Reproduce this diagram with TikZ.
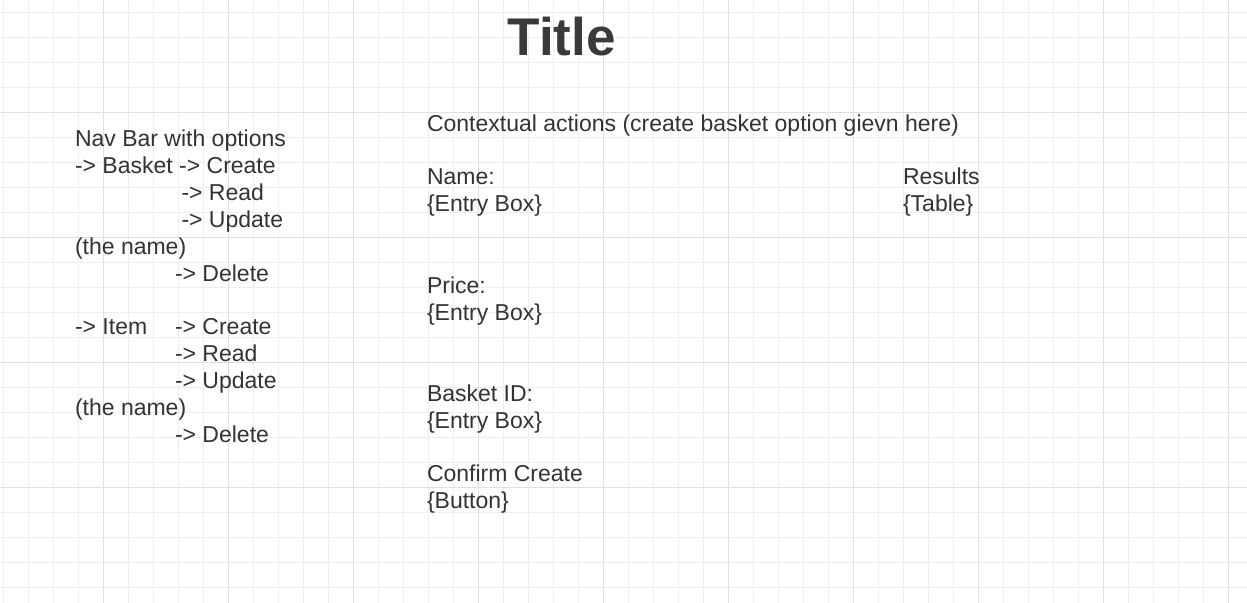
\documentclass[tikz,border=0pt]{standalone}
\usepackage{fontspec}
\setmainfont{Liberation Sans}
\definecolor{textgray}{HTML}{333333}
\definecolor{titlegray}{HTML}{3A3A3A}
\definecolor{gridminor}{HTML}{EEEEEE}
\definecolor{gridmajor}{HTML}{E0E0E0}
\begin{document}
\begin{tikzpicture}[x=0.75pt,y=-0.75pt,
  txt/.style={anchor=base west, inner sep=0pt, outer sep=0pt, text=textgray,
    font=\fontsize{17.25pt}{20pt}\selectfont},
  minorline/.style={draw=gridminor, line width=0.75pt},
  majorline/.style={draw=gridmajor, line width=0.75pt}]
\useasboundingbox (0,0) rectangle (1247,603);
\fill[white] (0,0) rectangle (1247,603);
% grid
\foreach \i in {0,...,49} {\draw[minorline] ({3.3+25*\i},0) -- ({3.3+25*\i},603);}
\foreach \i in {0,...,24} {\draw[minorline] (0,{12.3+25*\i}) -- (1247,{12.3+25*\i});}
\foreach \i in {0,...,9} {\draw[majorline] ({103.3+125*\i},0) -- ({103.3+125*\i},603);}
\foreach \i in {0,...,3} {\draw[majorline] (0,{112.3+125*\i}) -- (1247,{112.3+125*\i});}
% title
\node[anchor=base west, inner sep=0pt, text=titlegray, font=\fontsize{39.8pt}{45pt}\selectfont\bfseries] (title) at (507.5,55.5) {Title};
% left block
\node[txt] (nav) at (75,146.5) {Nav Bar with options};
\node[txt] (bask) at (75,173.4) {-> Basket -> Create};
\node[txt] (bread) at (181.5,200.3) {-> Read};
\node[txt] (bupd) at (181.5,227.2) {-> Update};
\node[txt] (bname) at (75,254.1) {(the name)};
\node[txt] (bdel) at (175,281) {-> Delete};
\node[txt] (item) at (75,334.8) {-> Item};
\node[txt] (icre) at (175,334.8) {-> Create};
\node[txt] (iread) at (175,361.7) {-> Read};
\node[txt] (iupd) at (175,388.6) {-> Update};
\node[txt] (iname) at (75,415.5) {(the name)};
\node[txt] (idel) at (175,442.4) {-> Delete};
% middle block
\node[txt] (ctx) at (427,131.7) {Contextual actions (create basket option gievn here)};
\node[txt] (name) at (427,184.5) {Name:};
\node[txt] (nameb) at (427,211.5) {\{Entry Box\}};
\node[txt] (price) at (427,293.7) {Price:};
\node[txt] (priceb) at (427,320.7) {\{Entry Box\}};
\node[txt] (bid) at (427,401) {Basket ID:};
\node[txt] (bidb) at (427,428) {\{Entry Box\}};
\node[txt] (conf) at (427,481.7) {Confirm Create};
\node[txt] (confb) at (427,508.7) {\{Button\}};
% right block
\node[txt] (res) at (903,184.5) {Results};
\node[txt] (resb) at (903,211.5) {\{Table\}};
\end{tikzpicture}
\end{document}
